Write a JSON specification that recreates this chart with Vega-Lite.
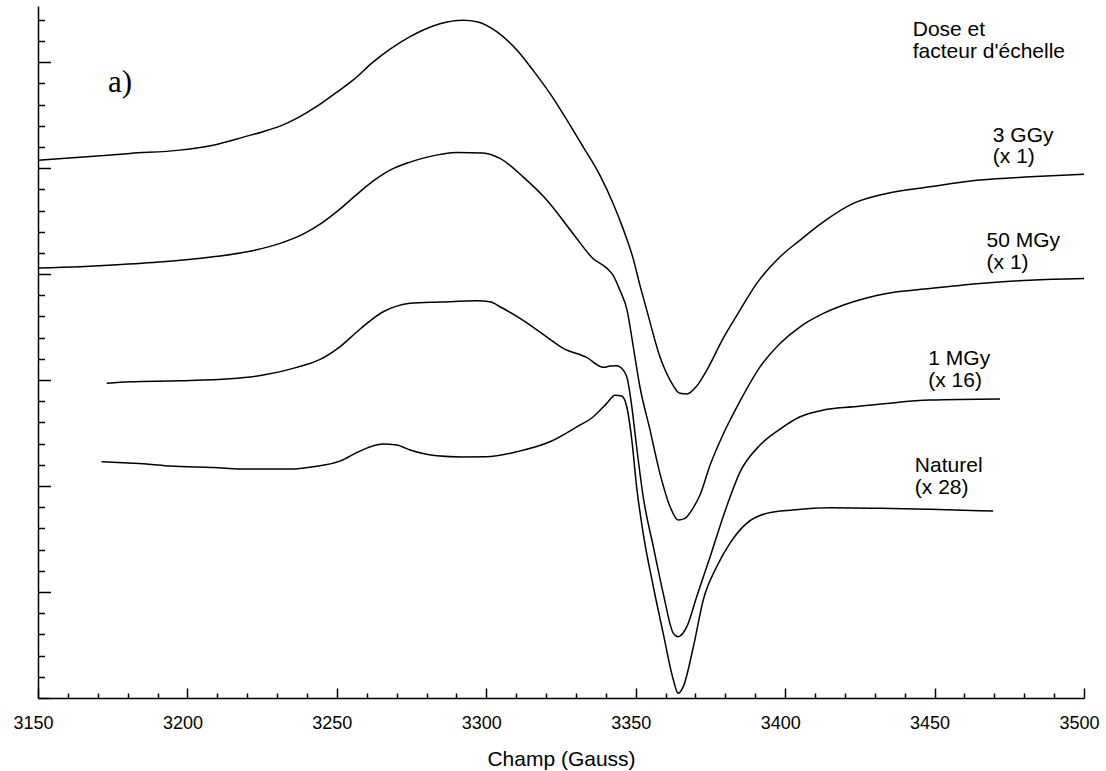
{
  "$schema": "https://vega.github.io/schema/vega-lite/v6.json",
  "width": 1046,
  "height": 692,
  "autosize": {"type": "none"},
  "padding": {"left": 38, "top": 6, "right": 22, "bottom": 73},
  "background": "white",
  "config": {"view": {"stroke": null}, "font": "Liberation Sans"},
  "datasets": {
    "curves": [
      {"serie": "3 GGy", "champ": 3150.0, "signal": 507.5},
      {"serie": "3 GGy", "champ": 3166.3, "signal": 510.7},
      {"serie": "3 GGy", "champ": 3180.8, "signal": 513.9},
      {"serie": "3 GGy", "champ": 3197.5, "signal": 517.0},
      {"serie": "3 GGy", "champ": 3208.6, "signal": 521.7},
      {"serie": "3 GGy", "champ": 3219.9, "signal": 530.2},
      {"serie": "3 GGy", "champ": 3225.3, "signal": 534.4},
      {"serie": "3 GGy", "champ": 3231.0, "signal": 539.6},
      {"serie": "3 GGy", "champ": 3236.7, "signal": 547.2},
      {"serie": "3 GGy", "champ": 3243.4, "signal": 558.5},
      {"serie": "3 GGy", "champ": 3250.0, "signal": 571.7},
      {"serie": "3 GGy", "champ": 3255.4, "signal": 583.0},
      {"serie": "3 GGy", "champ": 3262.1, "signal": 600.0},
      {"serie": "3 GGy", "champ": 3267.8, "signal": 612.3},
      {"serie": "3 GGy", "champ": 3274.5, "signal": 624.1},
      {"serie": "3 GGy", "champ": 3279.5, "signal": 631.1},
      {"serie": "3 GGy", "champ": 3284.5, "signal": 636.3},
      {"serie": "3 GGy", "champ": 3292.2, "signal": 639.6},
      {"serie": "3 GGy", "champ": 3296.9, "signal": 638.2},
      {"serie": "3 GGy", "champ": 3303.6, "signal": 628.6},
      {"serie": "3 GGy", "champ": 3310.3, "signal": 611.3},
      {"serie": "3 GGy", "champ": 3315.6, "signal": 592.5},
      {"serie": "3 GGy", "champ": 3321.3, "signal": 570.5},
      {"serie": "3 GGy", "champ": 3327.0, "signal": 545.3},
      {"serie": "3 GGy", "champ": 3332.4, "signal": 520.1},
      {"serie": "3 GGy", "champ": 3338.0, "signal": 493.4},
      {"serie": "3 GGy", "champ": 3342.4, "signal": 466.9},
      {"serie": "3 GGy", "champ": 3345.7, "signal": 443.4},
      {"serie": "3 GGy", "champ": 3349.1, "signal": 415.1},
      {"serie": "3 GGy", "champ": 3351.4, "signal": 389.6},
      {"serie": "3 GGy", "champ": 3353.7, "signal": 366.0},
      {"serie": "3 GGy", "champ": 3358.1, "signal": 322.0},
      {"serie": "3 GGy", "champ": 3361.5, "signal": 300.0},
      {"serie": "3 GGy", "champ": 3364.8, "signal": 287.5},
      {"serie": "3 GGy", "champ": 3367.1, "signal": 286.8},
      {"serie": "3 GGy", "champ": 3370.4, "signal": 294.3},
      {"serie": "3 GGy", "champ": 3373.8, "signal": 309.4},
      {"serie": "3 GGy", "champ": 3379.3, "signal": 339.6},
      {"serie": "3 GGy", "champ": 3384.9, "signal": 366.0},
      {"serie": "3 GGy", "champ": 3390.5, "signal": 391.2},
      {"serie": "3 GGy", "champ": 3398.3, "signal": 416.3},
      {"serie": "3 GGy", "champ": 3405.0, "signal": 432.1},
      {"serie": "3 GGy", "champ": 3412.8, "signal": 449.3},
      {"serie": "3 GGy", "champ": 3422.8, "signal": 466.7},
      {"serie": "3 GGy", "champ": 3434.0, "signal": 476.1},
      {"serie": "3 GGy", "champ": 3448.5, "signal": 482.4},
      {"serie": "3 GGy", "champ": 3465.2, "signal": 488.7},
      {"serie": "3 GGy", "champ": 3481.9, "signal": 491.8},
      {"serie": "3 GGy", "champ": 3500.0, "signal": 494.3},

      {"serie": "50 MGy", "champ": 3150.0, "signal": 405.7},
      {"serie": "50 MGy", "champ": 3164.1, "signal": 406.9},
      {"serie": "50 MGy", "champ": 3175.1, "signal": 408.5},
      {"serie": "50 MGy", "champ": 3191.8, "signal": 411.6},
      {"serie": "50 MGy", "champ": 3208.6, "signal": 416.3},
      {"serie": "50 MGy", "champ": 3219.9, "signal": 421.0},
      {"serie": "50 MGy", "champ": 3231.0, "signal": 429.0},
      {"serie": "50 MGy", "champ": 3238.7, "signal": 437.7},
      {"serie": "50 MGy", "champ": 3245.4, "signal": 449.1},
      {"serie": "50 MGy", "champ": 3251.0, "signal": 461.3},
      {"serie": "50 MGy", "champ": 3256.4, "signal": 474.5},
      {"serie": "50 MGy", "champ": 3262.1, "signal": 487.7},
      {"serie": "50 MGy", "champ": 3267.8, "signal": 498.1},
      {"serie": "50 MGy", "champ": 3274.5, "signal": 505.7},
      {"serie": "50 MGy", "champ": 3280.2, "signal": 510.4},
      {"serie": "50 MGy", "champ": 3290.2, "signal": 514.8},
      {"serie": "50 MGy", "champ": 3298.9, "signal": 514.4},
      {"serie": "50 MGy", "champ": 3304.6, "signal": 509.2},
      {"serie": "50 MGy", "champ": 3312.3, "signal": 491.8},
      {"serie": "50 MGy", "champ": 3320.3, "signal": 469.8},
      {"serie": "50 MGy", "champ": 3329.0, "signal": 438.4},
      {"serie": "50 MGy", "champ": 3335.7, "signal": 414.8},
      {"serie": "50 MGy", "champ": 3340.4, "signal": 405.4},
      {"serie": "50 MGy", "champ": 3342.4, "signal": 399.1},
      {"serie": "50 MGy", "champ": 3344.7, "signal": 384.9},
      {"serie": "50 MGy", "champ": 3347.1, "signal": 366.0},
      {"serie": "50 MGy", "champ": 3349.1, "signal": 333.0},
      {"serie": "50 MGy", "champ": 3351.4, "signal": 293.7},
      {"serie": "50 MGy", "champ": 3354.8, "signal": 252.8},
      {"serie": "50 MGy", "champ": 3358.1, "signal": 212.0},
      {"serie": "50 MGy", "champ": 3361.5, "signal": 180.5},
      {"serie": "50 MGy", "champ": 3364.2, "signal": 167.9},
      {"serie": "50 MGy", "champ": 3366.5, "signal": 169.5},
      {"serie": "50 MGy", "champ": 3369.2, "signal": 179.2},
      {"serie": "50 MGy", "champ": 3371.5, "signal": 191.5},
      {"serie": "50 MGy", "champ": 3374.9, "signal": 219.8},
      {"serie": "50 MGy", "champ": 3379.3, "signal": 249.1},
      {"serie": "50 MGy", "champ": 3384.9, "signal": 280.2},
      {"serie": "50 MGy", "champ": 3391.6, "signal": 312.5},
      {"serie": "50 MGy", "champ": 3398.3, "signal": 334.6},
      {"serie": "50 MGy", "champ": 3405.0, "signal": 350.3},
      {"serie": "50 MGy", "champ": 3412.8, "signal": 362.9},
      {"serie": "50 MGy", "champ": 3422.8, "signal": 373.9},
      {"serie": "50 MGy", "champ": 3434.0, "signal": 381.8},
      {"serie": "50 MGy", "champ": 3448.5, "signal": 386.5},
      {"serie": "50 MGy", "champ": 3465.2, "signal": 391.2},
      {"serie": "50 MGy", "champ": 3481.9, "signal": 394.3},
      {"serie": "50 MGy", "champ": 3500.0, "signal": 395.9},

      {"serie": "1 MGy", "champ": 3173.0, "signal": 296.9},
      {"serie": "1 MGy", "champ": 3180.8, "signal": 298.4},
      {"serie": "1 MGy", "champ": 3197.5, "signal": 299.3},
      {"serie": "1 MGy", "champ": 3214.2, "signal": 301.2},
      {"serie": "1 MGy", "champ": 3225.4, "signal": 304.7},
      {"serie": "1 MGy", "champ": 3236.6, "signal": 312.0},
      {"serie": "1 MGy", "champ": 3244.4, "signal": 319.5},
      {"serie": "1 MGy", "champ": 3251.0, "signal": 331.4},
      {"serie": "1 MGy", "champ": 3257.7, "signal": 348.0},
      {"serie": "1 MGy", "champ": 3265.5, "signal": 364.5},
      {"serie": "1 MGy", "champ": 3270.0, "signal": 369.8},
      {"serie": "1 MGy", "champ": 3274.5, "signal": 372.4},
      {"serie": "1 MGy", "champ": 3284.5, "signal": 373.6},
      {"serie": "1 MGy", "champ": 3296.8, "signal": 374.8},
      {"serie": "1 MGy", "champ": 3301.2, "signal": 374.0},
      {"serie": "1 MGy", "champ": 3304.6, "signal": 369.2},
      {"serie": "1 MGy", "champ": 3311.3, "signal": 358.2},
      {"serie": "1 MGy", "champ": 3320.2, "signal": 340.8},
      {"serie": "1 MGy", "champ": 3325.8, "signal": 329.9},
      {"serie": "1 MGy", "champ": 3333.6, "signal": 321.4},
      {"serie": "1 MGy", "champ": 3339.2, "signal": 312.0},
      {"serie": "1 MGy", "champ": 3341.4, "signal": 313.2},
      {"serie": "1 MGy", "champ": 3343.6, "signal": 313.5},
      {"serie": "1 MGy", "champ": 3344.7, "signal": 312.5},
      {"serie": "1 MGy", "champ": 3347.0, "signal": 303.1},
      {"serie": "1 MGy", "champ": 3348.7, "signal": 274.8},
      {"serie": "1 MGy", "champ": 3350.3, "signal": 237.1},
      {"serie": "1 MGy", "champ": 3352.5, "signal": 189.9},
      {"serie": "1 MGy", "champ": 3355.9, "signal": 142.7},
      {"serie": "1 MGy", "champ": 3359.2, "signal": 98.8},
      {"serie": "1 MGy", "champ": 3362.6, "signal": 61.0},
      {"serie": "1 MGy", "champ": 3364.2, "signal": 57.8},
      {"serie": "1 MGy", "champ": 3367.1, "signal": 67.3},
      {"serie": "1 MGy", "champ": 3370.4, "signal": 95.6},
      {"serie": "1 MGy", "champ": 3374.9, "signal": 133.3},
      {"serie": "1 MGy", "champ": 3380.4, "signal": 180.5},
      {"serie": "1 MGy", "champ": 3384.9, "signal": 213.2},
      {"serie": "1 MGy", "champ": 3391.6, "signal": 238.7},
      {"serie": "1 MGy", "champ": 3398.3, "signal": 253.8},
      {"serie": "1 MGy", "champ": 3405.0, "signal": 265.4},
      {"serie": "1 MGy", "champ": 3412.8, "signal": 271.7},
      {"serie": "1 MGy", "champ": 3422.8, "signal": 274.8},
      {"serie": "1 MGy", "champ": 3434.0, "signal": 278.0},
      {"serie": "1 MGy", "champ": 3448.5, "signal": 281.1},
      {"serie": "1 MGy", "champ": 3471.9, "signal": 282.1},

      {"serie": "Naturel", "champ": 3171.3, "signal": 222.9},
      {"serie": "Naturel", "champ": 3178.5, "signal": 222.0},
      {"serie": "Naturel", "champ": 3186.4, "signal": 220.8},
      {"serie": "Naturel", "champ": 3194.2, "signal": 218.9},
      {"serie": "Naturel", "champ": 3208.7, "signal": 217.6},
      {"serie": "Naturel", "champ": 3219.8, "signal": 216.0},
      {"serie": "Naturel", "champ": 3234.3, "signal": 216.0},
      {"serie": "Naturel", "champ": 3242.1, "signal": 218.2},
      {"serie": "Naturel", "champ": 3251.0, "signal": 223.5},
      {"serie": "Naturel", "champ": 3257.7, "signal": 233.0},
      {"serie": "Naturel", "champ": 3261.0, "signal": 236.8},
      {"serie": "Naturel", "champ": 3265.4, "signal": 239.6},
      {"serie": "Naturel", "champ": 3270.0, "signal": 238.7},
      {"serie": "Naturel", "champ": 3274.5, "signal": 234.0},
      {"serie": "Naturel", "champ": 3283.4, "signal": 228.5},
      {"serie": "Naturel", "champ": 3292.0, "signal": 227.4},
      {"serie": "Naturel", "champ": 3300.1, "signal": 227.6},
      {"serie": "Naturel", "champ": 3310.2, "signal": 232.4},
      {"serie": "Naturel", "champ": 3321.3, "signal": 241.8},
      {"serie": "Naturel", "champ": 3330.3, "signal": 255.9},
      {"serie": "Naturel", "champ": 3335.8, "signal": 265.4},
      {"serie": "Naturel", "champ": 3340.3, "signal": 278.0},
      {"serie": "Naturel", "champ": 3343.1, "signal": 285.8},
      {"serie": "Naturel", "champ": 3345.3, "signal": 284.9},
      {"serie": "Naturel", "champ": 3347.0, "signal": 274.8},
      {"serie": "Naturel", "champ": 3348.7, "signal": 243.4},
      {"serie": "Naturel", "champ": 3350.3, "signal": 199.3},
      {"serie": "Naturel", "champ": 3352.5, "signal": 155.4},
      {"serie": "Naturel", "champ": 3355.9, "signal": 105.0},
      {"serie": "Naturel", "champ": 3359.2, "signal": 61.0},
      {"serie": "Naturel", "champ": 3362.6, "signal": 17.0},
      {"serie": "Naturel", "champ": 3364.2, "signal": 4.4},
      {"serie": "Naturel", "champ": 3365.9, "signal": 10.7},
      {"serie": "Naturel", "champ": 3369.3, "signal": 48.4},
      {"serie": "Naturel", "champ": 3372.6, "signal": 92.5},
      {"serie": "Naturel", "champ": 3377.1, "signal": 123.9},
      {"serie": "Naturel", "champ": 3381.5, "signal": 145.9},
      {"serie": "Naturel", "champ": 3387.1, "signal": 164.8},
      {"serie": "Naturel", "champ": 3393.8, "signal": 174.2},
      {"serie": "Naturel", "champ": 3402.7, "signal": 177.4},
      {"serie": "Naturel", "champ": 3415.0, "signal": 179.5},
      {"serie": "Naturel", "champ": 3431.7, "signal": 179.0},
      {"serie": "Naturel", "champ": 3448.5, "signal": 178.0},
      {"serie": "Naturel", "champ": 3469.6, "signal": 176.4}
    ],
    "annotations": [
      {"champ": 3442.7, "signal": 624.5, "texte": "Dose et"},
      {"champ": 3442.7, "signal": 603.8, "texte": "facteur d'échelle"},
      {"champ": 3469.5, "signal": 524.5, "texte": "3 GGy"},
      {"champ": 3469.5, "signal": 504.7, "texte": "(x 1)"},
      {"champ": 3467.4, "signal": 425.8, "texte": "50 MGy"},
      {"champ": 3467.4, "signal": 405.2, "texte": "(x 1)"},
      {"champ": 3447.9, "signal": 314.2, "texte": "1 MGy"},
      {"champ": 3447.9, "signal": 293.4, "texte": "(x 16)"},
      {"champ": 3443.4, "signal": 213.5, "texte": "Naturel"},
      {"champ": 3443.4, "signal": 192.9, "texte": "(x 28)"}
    ],
    "panel": [
      {"champ": 3173.4, "signal": 571.7, "texte": "a)"}
    ]
  },
  "layer": [
    {
      "data": {"name": "curves"},
      "mark": {"type": "line", "color": "black", "strokeWidth": 1.5, "interpolate": "monotone"},
      "encoding": {
        "x": {
          "field": "champ", "type": "quantitative",
          "title": "Champ (Gauss)",
          "scale": {"domain": [3150, 3500], "nice": false, "zero": false},
          "axis": {
            "values": [3150,3160,3170,3180,3190,3200,3210,3220,3230,3240,3250,3260,3270,3280,3290,3300,3310,3320,3330,3340,3350,3360,3370,3380,3390,3400,3410,3420,3430,3440,3450,3460,3470,3480,3490,3500],
            "tickCount": 100,
            "format": "d",
            "labelExpr": "datum.value % 50 === 0 ? datum.label : ''",
            "grid": false,
            "domainColor": "black",
            "domainWidth": 1.5,
            "tickColor": "black",
            "tickWidth": 1.5,
            "tickSize": {"condition": {"test": "datum.value % 50 === 0", "value": -10}, "value": -5},
            "labelPadding": 26,
            "labelFontSize": 18,
            "labelColor": "black",
            "labelFont": "Liberation Sans",
            "labelFlush": false,
            "labelOverlap": false,
            "labelOffset": -5,
            "titleFontSize": 21,
            "titleFontWeight": "normal",
            "titleColor": "black",
            "titleFont": "Liberation Sans",
            "titleBaseline": "alphabetic",
            "titleY": 67
          }
        },
        "y": {
          "field": "signal", "type": "quantitative",
          "title": null,
          "scale": {"domain": [0, 653], "nice": false, "zero": false},
          "axis": {
            "values": [0,20,40,60,80,100,120,140,160,180,200,220,240,260,280,300,320,340,360,380,400,420,440,460,480,500,520,540,560,580,600,620,640],
            "tickCount": 100,
            "labels": false,
            "grid": false,
            "domainColor": "black",
            "domainWidth": 1.5,
            "tickColor": "black",
            "tickWidth": 1.5,
            "tickSize": {"condition": {"test": "datum.value % 100 === 0", "value": -12.5}, "value": -6.5}
          }
        },
        "detail": {"field": "serie", "type": "nominal"}
      }
    },
    {
      "data": {"name": "annotations"},
      "mark": {"type": "text", "align": "left", "baseline": "alphabetic", "fontSize": 21, "font": "Liberation Sans", "color": "black"},
      "encoding": {
        "x": {"field": "champ", "type": "quantitative", "title": "Champ (Gauss)"},
        "y": {"field": "signal", "type": "quantitative", "title": null},
        "text": {"field": "texte", "type": "nominal"}
      }
    },
    {
      "data": {"name": "panel"},
      "mark": {"type": "text", "align": "left", "baseline": "alphabetic", "fontSize": 31, "font": "Liberation Serif", "color": "black"},
      "encoding": {
        "x": {"field": "champ", "type": "quantitative", "title": "Champ (Gauss)"},
        "y": {"field": "signal", "type": "quantitative", "title": null},
        "text": {"field": "texte", "type": "nominal"}
      }
    }
  ]
}
